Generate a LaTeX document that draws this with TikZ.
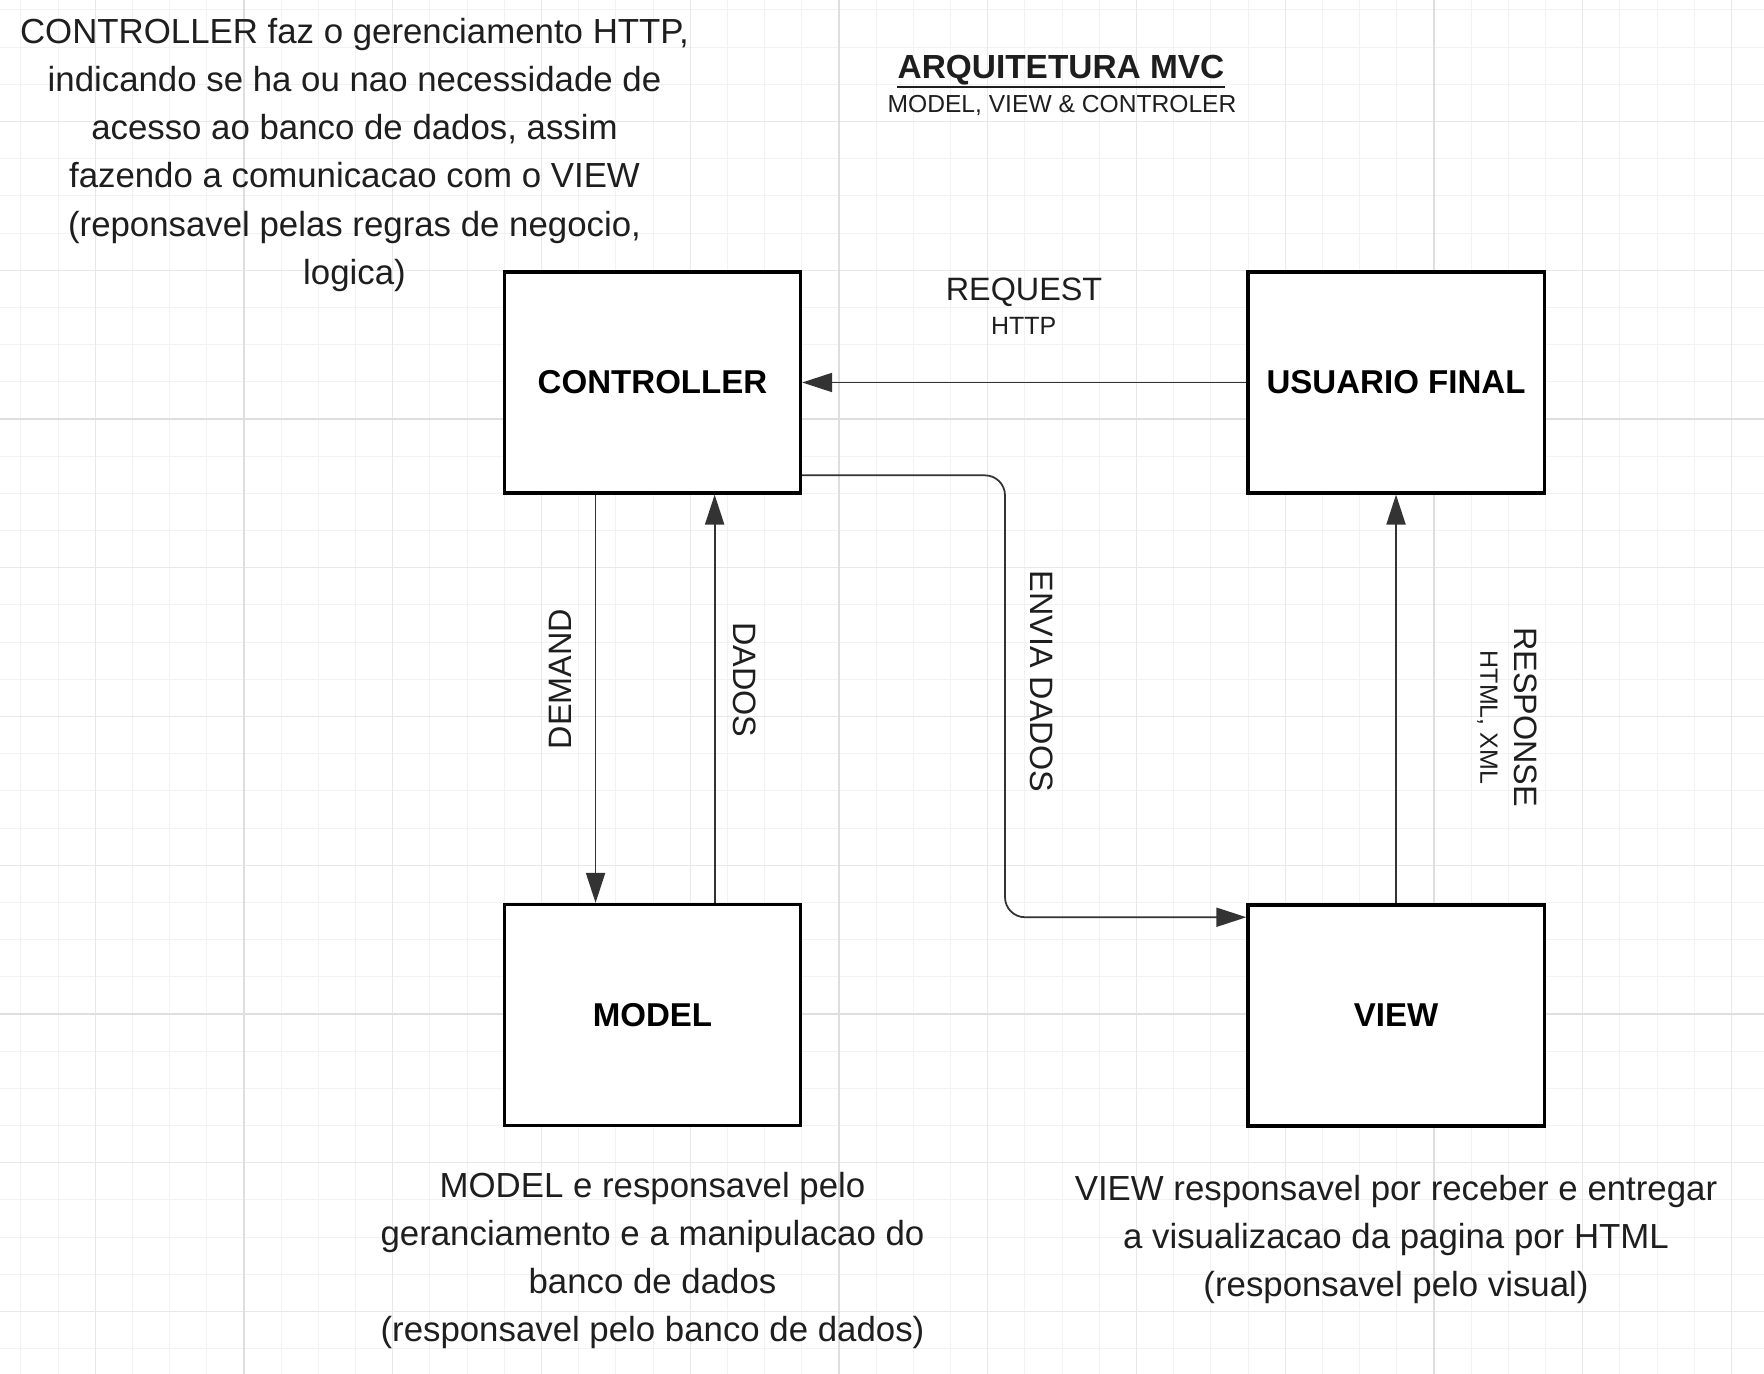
\documentclass[tikz,border=0pt]{standalone}
\usepackage{fontspec}
\setmainfont{Liberation Sans}
\usetikzlibrary{arrows.meta}

\definecolor{gridminor}{HTML}{F2F2F2}
\definecolor{gridmid}{HTML}{E8E8E8}
\definecolor{gridmajor}{HTML}{DEDEDE}
\definecolor{ink}{HTML}{1E1E1E}
\definecolor{wire}{HTML}{333333}

\tikzset{
    block/.style={draw=black, line width=0.9pt, fill=white, inner sep=0pt,
        minimum width=2.96cm, minimum height=2.21cm, text=black,
        font=\fontsize{9.4pt}{11pt}\selectfont\bfseries},
    flow/.style={draw=wire, line width=0.5pt, -{Triangle[length=8.5pt,width=5.4pt]}},
    tag/.style={inner sep=0pt, text=ink, text depth=0pt, font=\fontsize{9.2pt}{11pt}\selectfont},
    subtag/.style={inner sep=0pt, text=ink, text depth=0pt, font=\fontsize{7.1pt}{9pt}\selectfont},
    note/.style={inner sep=0pt, align=center, text=ink, anchor=north,
        font=\fontsize{9.9pt}{13.7pt}\selectfont},
}

\begin{document}
\begin{tikzpicture}[x=0.01cm, y=-0.01cm]

\useasboundingbox (0,0) rectangle (1764,1374);
\fill[white] (0,0) rectangle (1764,1374);

% grid
\foreach \i in {-6,...,40}
    \draw[gridminor, line width=0.3pt] (244+\i*37.1875,0) -- (244+\i*37.1875,1374);
\foreach \i in {-11,...,26}
    \draw[gridminor, line width=0.3pt] (0,419+\i*37.1875) -- (1764,419+\i*37.1875);
\foreach \i in {-4,0,...,40}
    \draw[gridmid, line width=0.3pt] (244+\i*37.1875,0) -- (244+\i*37.1875,1374);
\foreach \i in {-8,-4,...,24}
    \draw[gridmid, line width=0.3pt] (0,419+\i*37.1875) -- (1764,419+\i*37.1875);
\foreach \i in {0,16,32}
    \draw[gridmajor, line width=0.55pt] (244+\i*37.1875,0) -- (244+\i*37.1875,1374);
\foreach \i in {0,16}
    \draw[gridmajor, line width=0.55pt] (0,419+\i*37.1875) -- (1764,419+\i*37.1875);

\node[block] (controller) at (652.5,382.5)  {CONTROLLER};
\node[block] (usuario)    at (1396,382.5)   {USUARIO FINAL};
\node[block] (model)      at (652.5,1015)   {MODEL};
\node[block] (view)       at (1396,1015.5)  {VIEW};

\coordinate (bend) at (1005,700);

\draw[flow] (usuario.west) -- (controller.east);
\draw[flow] ([xshift=-0.569cm]controller.south) -- ([xshift=-0.569cm]model.north);
\draw[flow] ([xshift=0.621cm]model.north) -- ([xshift=0.621cm]controller.south);
\draw[flow, rounded corners=5.7pt] ([yshift=-0.928cm]controller.east) -| (bend) |- ([yshift=0.982cm]view.west);
\draw[flow] (view.north) -- (usuario.south);

\node[tag]              (request)  at (1024,289.2)  {REQUEST};
\node[subtag]           (http)     at (1023.7,326)  {HTTP};
\node[tag, rotate=90]   (demand)   at (560,679)     {DEMAND};
\node[tag, rotate=-90]  (dados)    at (745,680)     {DADOS};
\node[tag, rotate=-90]  (envia)    at (1042,681.5)  {ENVIA DADOS};
\node[tag, rotate=-90]  (response) at (1526,717)    {RESPONSE};
\node[subtag, rotate=-90] (htmlxml) at (1489,717.5) {HTML, XML};

\node[inner sep=0pt, anchor=base, text=ink, font=\fontsize{9.5pt}{11pt}\selectfont\bfseries]
    (title) at (1061,78.3) {ARQUITETURA MVC};
\draw[ink, line width=0.65pt] ([yshift=-2.4pt]title.base west) -- ([yshift=-2.4pt]title.base east);
\node[inner sep=0pt, anchor=base, text=ink, font=\fontsize{7pt}{9pt}\selectfont]
    (subtitle) at (1062,112.7) {MODEL, VIEW \& CONTROLER};

\node[note] (notectrl) at (354.5,17.5) {CONTROLLER faz o gerenciamento HTTP,\\
    indicando se ha ou nao necessidade de\\ acesso ao banco de dados, assim\\
    fazendo a comunicacao com o VIEW\\ (reponsavel pelas regras de negocio,\\ logica)};
\node[note] (notemodel) at (652.5,1171.5) {MODEL e responsavel pelo\\
    geranciamento e a manipulacao do\\ banco de dados\\ (responsavel pelo banco de dados)};
\node[note] (noteview) at (1396,1174.5) {VIEW responsavel por receber e entregar\\
    a visualizacao da pagina por HTML\\ (responsavel pelo visual)};

\end{tikzpicture}
\end{document}
